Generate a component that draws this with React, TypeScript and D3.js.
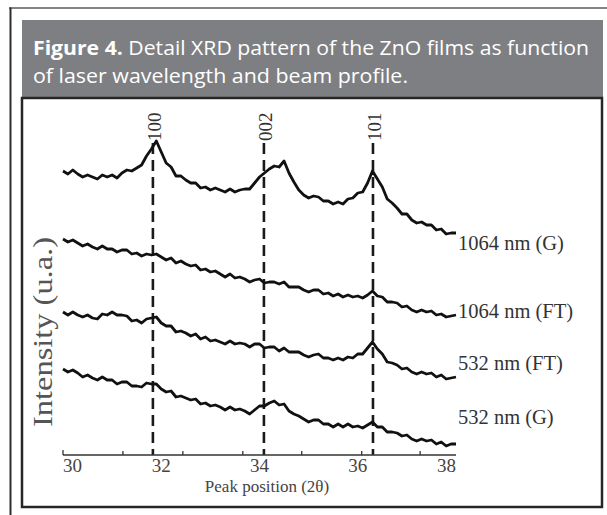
import { useEffect, useRef } from 'react';
import * as d3 from 'd3';

// 2θ grid of the scans (step 0.1°)
const twoTheta = d3.range(0, 81).map(i => +(30 + i * 0.1).toFixed(1));

// intensities (arbitrary units, already stacked)
const g1064 = [
  284, 281, 285, 281, 278, 280, 278, 276, 280, 278,
  280, 277, 282, 285, 284, 287, 290, 299, 306, 314,
  303, 292, 288, 279, 279, 275, 272, 272, 267, 268,
  265, 267, 265, 263, 266, 263, 265, 266, 266, 272,
  278, 282, 286, 289, 288, 294, 282, 273, 265, 260,
  257, 259, 258, 254, 254, 251, 253, 251, 256, 257,
  262, 263, 272, 284, 276, 268, 256, 252, 247, 241,
  241, 235, 232, 233, 230, 230, 225, 226, 221, 222, 222,
];
const ft1064 = [
  216, 213, 215, 212, 209, 211, 208, 206, 209, 206,
  206, 203, 205, 205, 201, 202, 199, 201, 200, 201,
  198, 195, 197, 192, 194, 191, 189, 190, 185, 186,
  183, 184, 181, 178, 181, 177, 178, 176, 173, 175,
  176, 172, 173, 173, 171, 173, 168, 168, 168, 165,
  163, 165, 165, 161, 162, 159, 161, 158, 160, 158,
  159, 157, 160, 164, 159, 158, 153, 153, 152, 148,
  149, 145, 143, 145, 143, 144, 140, 141, 138, 139, 140,
];
const ft532 = [
  143, 140, 143, 140, 138, 140, 137, 136, 141, 140,
  143, 140, 140, 139, 134, 135, 132, 136, 137, 138,
  132, 129, 129, 123, 124, 122, 119, 121, 116, 118,
  114, 115, 113, 111, 114, 111, 112, 111, 108, 111,
  111, 107, 108, 108, 104, 107, 103, 103, 103, 100,
  98, 100, 101, 97, 97, 95, 97, 95, 98, 97,
  101, 101, 107, 113, 106, 101, 93, 92, 90, 86,
  87, 83, 81, 83, 81, 82, 78, 80, 76, 77, 78,
];
const g532 = [
  86, 83, 85, 82, 78, 80, 77, 75, 78, 75,
  75, 71, 73, 73, 69, 69, 68, 72, 71, 71,
  66, 63, 64, 58, 59, 57, 55, 56, 51, 52,
  49, 50, 48, 45, 48, 45, 46, 44, 41, 45,
  49, 49, 52, 54, 50, 51, 44, 41, 39, 36,
  33, 35, 35, 31, 31, 28, 31, 28, 31, 28,
  29, 27, 30, 33, 28, 28, 23, 23, 22, 19,
  20, 16, 14, 16, 14, 15, 11, 13, 9, 11, 11,
];

const seriesNames = ['1064 nm (G)', '1064 nm (FT)', '532 nm (FT)', '532 nm (G)'];
const seriesValues = [g1064, ft1064, ft532, g532];

const peakLabels = ['100', '002', '101'];
const peakPositions = [31.83, 34.09, 36.31];

const tickValues = [30, 32, 34, 36, 38];
const minorTicks = [31.22, 32.44, 33.66, 34.86, 36.08, 37.27];

// layout (not data)
const labelLevels = [205, 137, 85, 31];
const peakTop = 312;

export default function App() {
  const svgRef = useRef(null);

  useEffect(() => {
    const svg = d3.select(svgRef.current);
    svg.selectAll('*').remove();

    const W = 607, H = 515;
    svg.attr('width', W).attr('height', H);

    svg.append('rect').attr('width', W).attr('height', H).attr('fill', '#fff');

    // outer frame lines
    svg.append('line')
      .attr('x1', 9).attr('x2', W).attr('y1', 8).attr('y2', 8)
      .attr('stroke', '#5a5a5a').attr('stroke-width', 1.5);
    svg.append('line')
      .attr('x1', 10.5).attr('x2', 10.5).attr('y1', 7.5).attr('y2', H)
      .attr('stroke', '#2e2e2e').attr('stroke-width', 2);

    // caption header
    svg.append('rect')
      .attr('x', 22).attr('y', 20).attr('width', 581).attr('height', 78)
      .attr('fill', '#7e7f83');

    const cap1 = svg.append('text')
      .attr('x', 33).attr('y', 55)
      .attr('fill', '#fff')
      .attr('font-family', '"Open Sans", "Noto Sans", sans-serif')
      .attr('font-size', 20)
      .attr('textLength', 556)
      .attr('lengthAdjust', 'spacingAndGlyphs');
    cap1.append('tspan').attr('font-weight', 'bold').text('Figure 4.');
    cap1.append('tspan').text(' Detail XRD pattern of the ZnO films as function');

    svg.append('text')
      .attr('x', 33).attr('y', 83)
      .attr('fill', '#fff')
      .attr('font-family', '"Open Sans", "Noto Sans", sans-serif')
      .attr('font-size', 20)
      .attr('textLength', 375)
      .attr('lengthAdjust', 'spacingAndGlyphs')
      .text('of laser wavelength and beam profile.');

    // chart box
    svg.append('rect')
      .attr('x', 22).attr('y', 98).attr('width', 580).attr('height', 409)
      .attr('fill', 'none')
      .attr('stroke', '#262626')
      .attr('stroke-width', 2.5);

    const serif = '"Liberation Serif", "DejaVu Serif", serif';

    const x = d3.scaleLinear().domain([30, 38]).range([63, 456]);
    const y = d3.scaleLinear().domain([0, 360]).range([455, 95]);

    // peak markers
    peakPositions.forEach((p, i) => {
      svg.append('line')
        .attr('x1', x(p)).attr('x2', x(p))
        .attr('y1', y(peakTop)).attr('y2', y(0))
        .attr('stroke', '#1a1a1a')
        .attr('stroke-width', 2.6)
        .attr('stroke-dasharray', '11,6');
      svg.append('text')
        .attr('transform', `translate(${x(p) + 2},${y(peakTop) - 2}) rotate(-90)`)
        .attr('dominant-baseline', 'central')
        .attr('font-family', serif)
        .attr('font-size', 19)
        .attr('fill', '#333')
        .text(peakLabels[i]);
    });

    // axis
    const axisY = y(0);
    svg.append('line')
      .attr('x1', x(30)).attr('x2', x(38))
      .attr('y1', axisY).attr('y2', axisY)
      .attr('stroke', '#333').attr('stroke-width', 1.3);
    svg.append('line')
      .attr('x1', x(30)).attr('x2', x(30))
      .attr('y1', axisY).attr('y2', axisY - 5)
      .attr('stroke', '#333').attr('stroke-width', 1.3);
    svg.selectAll('.minor')
      .data(minorTicks)
      .join('line')
      .attr('x1', d => x(d)).attr('x2', d => x(d))
      .attr('y1', axisY).attr('y2', axisY - 4)
      .attr('stroke', '#333').attr('stroke-width', 1.3);

    svg.selectAll('.tick-label')
      .data(tickValues)
      .join('text')
      .attr('x', d => x(d))
      .attr('y', axisY + 17)
      .attr('text-anchor', (d, i) => i === 0 ? 'start' : i === tickValues.length - 1 ? 'end' : 'middle')
      .attr('font-family', serif)
      .attr('font-size', 19)
      .attr('fill', '#444')
      .text(d => d);

    svg.append('text')
      .attr('x', 267).attr('y', axisY + 37)
      .attr('text-anchor', 'middle')
      .attr('font-family', serif)
      .attr('font-size', 17)
      .attr('fill', '#444')
      .text('Peak position (2θ)');

    svg.append('text')
      .attr('transform', `translate(52,332) rotate(-90)`)
      .attr('text-anchor', 'middle')
      .attr('font-family', serif)
      .attr('font-size', 27)
      .attr('fill', '#555')
      .attr('textLength', 190)
      .attr('lengthAdjust', 'spacingAndGlyphs')
      .text('Intensity (u.a.)');

    // scans
    const line = d3.line()
      .x((d, i) => x(twoTheta[i]))
      .y(d => y(d));

    seriesValues.forEach((vals, k) => {
      svg.append('path')
        .attr('d', line(vals))
        .attr('fill', 'none')
        .attr('stroke', '#111')
        .attr('stroke-width', 2.8)
        .attr('stroke-linejoin', 'round');
      svg.append('text')
        .attr('x', x(38) + 2)
        .attr('y', y(labelLevels[k]))
        .attr('font-family', serif)
        .attr('font-size', 20.5)
        .attr('fill', '#333')
        .text(seriesNames[k]);
    });
  }, []);

  return (
    <div style={{ position: 'absolute', left: 0, top: 0 }}>
      <svg ref={svgRef} style={{ display: 'block' }}></svg>
    </div>
  );
}
